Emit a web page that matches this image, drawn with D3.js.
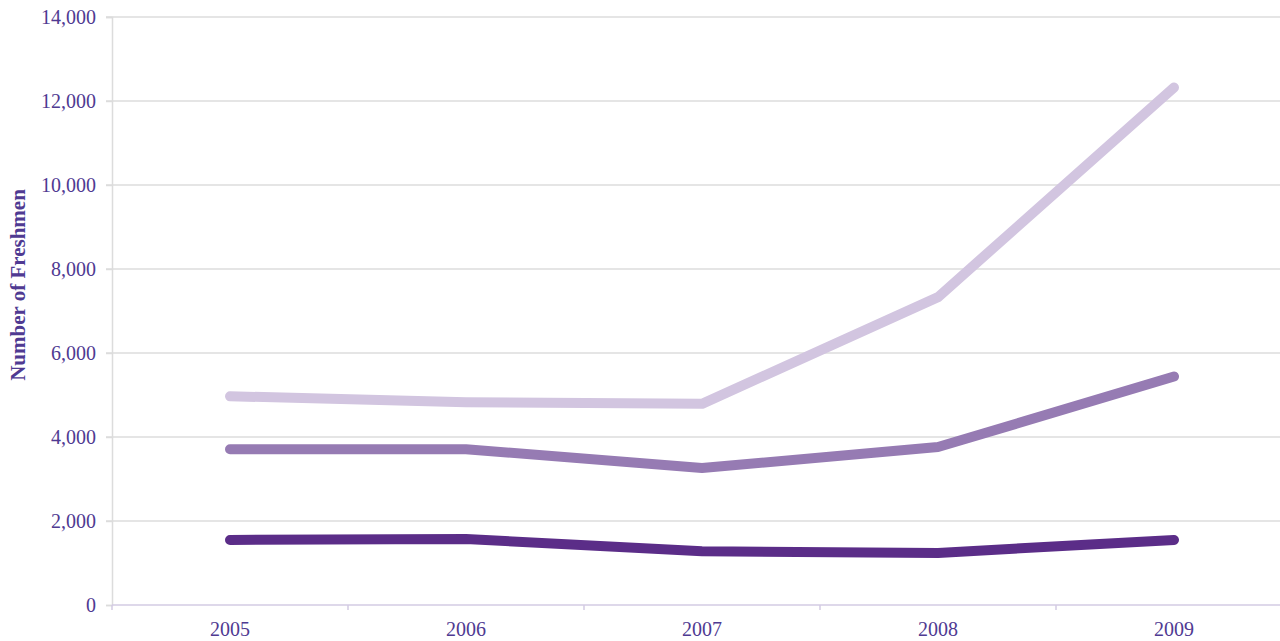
<!DOCTYPE html>
<html>
<head>
<meta charset="utf-8">
<script src="https://cdn.jsdelivr.net/npm/d3@7"></script>
<style>
  body { margin: 0; background: #fff; }
  svg { display: block; font-family: "Liberation Serif", "Times New Roman", serif; }
  .axis text { fill: #4f3a92; font-size: 20px; }
</style>
</head>
<body>
<svg id="plate" width="1280" height="641"></svg>
<script>
var years = ['2005', '2006', '2007', '2008', '2009'];
var yTicks = [0, 2000, 4000, 6000, 8000, 10000, 12000, 14000];
var seriesLight = [4970, 4830, 4790, 7330, 12320];
var seriesMedium = [3710, 3710, 3260, 3760, 5440];
var seriesDark = [1550, 1570, 1280, 1240, 1550];

var series = [
    {name: 'light', values: seriesLight, color: '#d2c5e0'},
    {name: 'medium', values: seriesMedium, color: '#967bb3'},
    {name: 'dark', values: seriesDark, color: '#5b2d88'}
];

var serif = '"Liberation Serif", "Times New Roman", serif';
var svg = d3.select('#plate');
var margin = {top: 17, left: 112, bottom: 36};
var height = 641 - margin.top - margin.bottom;

// x bands run past the right edge of the picture
var x = d3.scaleBand().domain(years).range([0, 1180]);
var y = d3.scaleLinear().domain([0, 14000]).range([height, 0]);

var g = svg.append('g')
    .attr('transform', 'translate(' + margin.left + ',' + margin.top + ')');

// gridlines
g.append('g')
    .selectAll('line')
    .data(yTicks.filter((d) => d > 0))
    .join('line')
    .attr('x1', -6)
    .attr('x2', 1280 - margin.left)
    .attr('y1', (d) => y(d))
    .attr('y2', (d) => y(d))
    .attr('stroke', '#dcdcdc')
    .attr('stroke-width', 1.5);

// y axis
var yAxis = g.append('g')
    .attr('class', 'axis')
    .call(d3.axisLeft(y).tickValues(yTicks).tickSize(6).tickPadding(10).tickFormat(d3.format(',')))
    .attr('font-family', serif)
    .attr('font-size', 20);
yAxis.select('.domain').attr('stroke', '#dcdcdc').attr('stroke-width', 1.5);
yAxis.selectAll('.tick line').attr('stroke', '#dcdcdc').attr('stroke-width', 1.5);
yAxis.selectAll('text').attr('dy', '0.3em');

// x axis
var xAxis = g.append('g')
    .attr('class', 'axis')
    .attr('transform', 'translate(0,' + height + ')')
    .call(d3.axisBottom(x).tickSize(0).tickPadding(17))
    .attr('font-family', serif)
    .attr('font-size', 20);
xAxis.select('.domain').remove();
xAxis.append('line')
    .attr('x1', 0)
    .attr('x2', 1280 - margin.left)
    .attr('stroke', '#d3cbe3')
    .attr('stroke-width', 1.5);
xAxis.selectAll('.edge')
    .data(years.map((d) => x(d)))
    .join('line')
    .attr('class', 'edge')
    .attr('x1', (d) => d)
    .attr('x2', (d) => d)
    .attr('y1', 0)
    .attr('y2', 5)
    .attr('stroke', '#d3cbe3')
    .attr('stroke-width', 1.5);

// lines
var line = d3.line()
    .x((d, i) => x(years[i]) + x.bandwidth() / 2)
    .y((d) => y(d));

g.selectAll('.series')
    .data(series)
    .join('path')
    .attr('class', 'series')
    .attr('fill', 'none')
    .attr('stroke', (d) => d.color)
    .attr('stroke-width', 10)
    .attr('stroke-linecap', 'round')
    .attr('stroke-linejoin', 'round')
    .attr('d', (d) => line(d.values));

// y title
svg.append('text')
    .attr('transform', 'translate(25,285) rotate(-90)')
    .attr('text-anchor', 'middle')
    .attr('fill', '#4f3a92')
    .attr('font-weight', 'bold')
    .attr('font-size', 21)
    .text('Number of Freshmen');
</script>
</body>
</html>
